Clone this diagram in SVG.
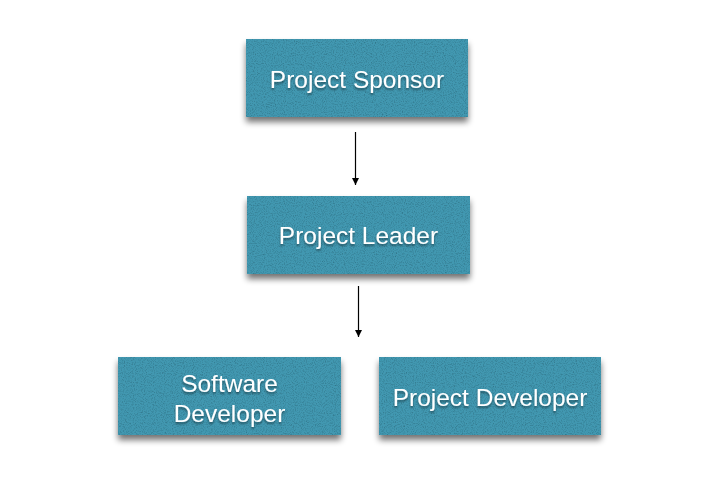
<svg xmlns="http://www.w3.org/2000/svg" width="722" height="488" viewBox="0 0 722 488">
<style>
.box{fill:#4298b1;filter:url(#tex)}
.lbl{font-family:"Liberation Sans",Arial,sans-serif;font-size:24.5px;fill:#ffffff;text-anchor:middle;filter:url(#ts)}
.edge{stroke:#000;stroke-width:1.2;fill:none;marker-end:url(#arr)}
</style>
<defs>
<filter id="tex" x="-10%" y="-10%" width="120%" height="140%">
<feTurbulence type="fractalNoise" baseFrequency="0.9" numOctaves="2" seed="3" result="n"/>
<feColorMatrix in="n" type="matrix" values="0 0 0 0 0  0 0 0 0 0  0 0 0 0 0  0 0 0 -0.9 0.5" result="nm"/>
<feComposite in="nm" in2="SourceGraphic" operator="in" result="dark"/>
<feMerge result="tx"><feMergeNode in="SourceGraphic"/><feMergeNode in="dark"/></feMerge>
<feGaussianBlur in="SourceAlpha" stdDeviation="3" result="b"/>
<feOffset in="b" dx="0" dy="5" result="ob"/>
<feComponentTransfer in="ob" result="sh"><feFuncA type="linear" slope="0.55"/></feComponentTransfer>
<feMerge><feMergeNode in="sh"/><feMergeNode in="tx"/></feMerge>
</filter>
<filter id="ts" x="-10%" y="-20%" width="120%" height="150%">
<feGaussianBlur in="SourceAlpha" stdDeviation="1.2" result="b"/>
<feOffset in="b" dx="0" dy="1.5" result="o"/>
<feComponentTransfer in="o" result="s"><feFuncA type="linear" slope="0.45"/></feComponentTransfer>
<feMerge><feMergeNode in="s"/><feMergeNode in="SourceGraphic"/></feMerge>
</filter>
<marker id="arr" viewBox="0 0 10 10" refX="10" refY="5" markerWidth="7" markerHeight="7" markerUnits="userSpaceOnUse" orient="auto">
<path d="M0,0 L10,5 L0,10 z" fill="#000"/>
</marker>
</defs>
<g id="connectors">
<line class="edge" x1="355.5" y1="132" x2="355.5" y2="185"/>
<line class="edge" x1="358.5" y1="286" x2="358.5" y2="337"/>
</g>
<g id="sponsor">
<rect class="box" x="246" y="39" width="222" height="78"/>
<text class="lbl" x="357" y="88">Project Sponsor</text>
</g>
<g id="leader">
<rect class="box" x="247" y="196" width="223" height="78"/>
<text class="lbl" x="358.5" y="244">Project Leader</text>
</g>
<g id="software-developer">
<rect class="box" x="118" y="357" width="223" height="78"/>
<text class="lbl" x="229.5" y="392">Software</text>
<text class="lbl" x="229.5" y="421.5">Developer</text>
</g>
<g id="project-developer">
<rect class="box" x="379" y="357" width="222" height="78"/>
<text class="lbl" x="490" y="405.5">Project Developer</text>
</g>
</svg>
